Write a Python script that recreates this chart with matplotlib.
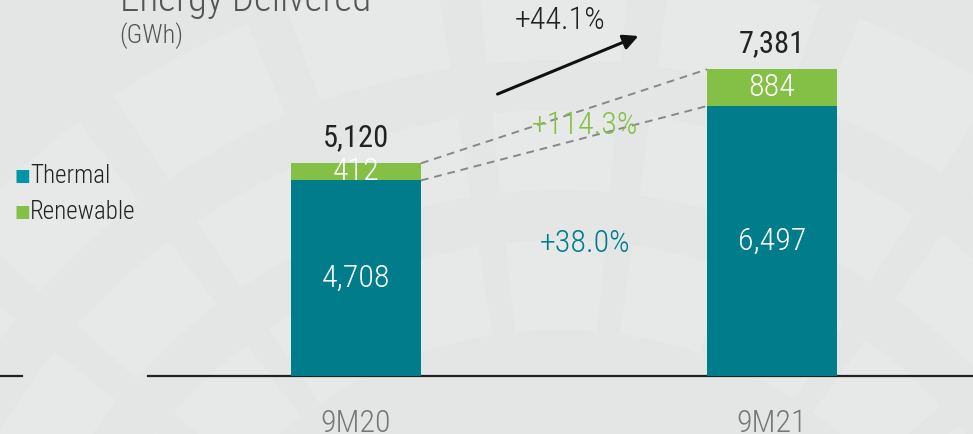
import matplotlib
matplotlib.use("Agg")
import matplotlib.pyplot as plt
from matplotlib import font_manager as fm
from matplotlib.patches import Wedge
import numpy as np

categories = ["9M20", "9M21"]
thermal = [4708, 6497]
renewable = [412, 884]
totals = [5120, 7381]
thermal_labels = ["4,708", "6,497"]
renewable_labels = ["412", "884"]
total_labels = ["5,120", "7,381"]
growth_total = "+44.1%"
growth_renew = "+114.3%"
growth_thermal = "+38.0%"

def pick_font():
    for f in ["Roboto Condensed", "Liberation Sans Narrow", "Roboto"]:
        try:
            fm.findfont(fm.FontProperties(family=f), fallback_to_default=False)
            return f
        except Exception:
            pass
    return "DejaVu Sans"

FONT = pick_font()
plt.rcParams["font.family"] = [FONT, "DejaVu Sans"]

TEAL = "#007C8A"
GREEN = "#85C046"
BG = "#E4E5E5"

fig = plt.figure(figsize=(9.73, 4.34), dpi=100)
fig.patch.set_facecolor(BG)

# faint decorative background
bgax = fig.add_axes([0, 0, 1, 1], zorder=-5)
bgax.set_xlim(0, 973); bgax.set_ylim(434, 0); bgax.axis("off")
cx, cy = 560, 760
for r0, r1 in [(430, 520), (570, 650), (700, 800)]:
    for a in range(180, 360, 14):
        bgax.add_patch(Wedge((cx, cy), r1, a, a + 11, width=r1 - r0,
                             facecolor="#E7E8E8", edgecolor="none", zorder=-5))

ax = fig.add_axes([148 / 973, 58 / 434, 825 / 973, 376 / 434])
ax.set_facecolor("none")
x = np.arange(len(categories))
w = 0.3125
ax.bar(x, thermal, width=w, color=TEAL, zorder=3)
ax.bar(x, renewable, width=w, bottom=thermal, color=GREEN, zorder=3)
ax.set_xlim(-0.5, 1.483)
ax.set_ylim(0, 9050)
for s in ["top", "right", "left"]:
    ax.spines[s].set_visible(False)
ax.spines["bottom"].set_color("#222222")
ax.spines["bottom"].set_linewidth(1.6)
ax.set_yticks([])
ax.set_xticks(x)
ax.set_xticklabels(categories, fontsize=23, color="#777777", fontweight="light")
ax.tick_params(axis="x", length=0, pad=24)

for i in range(len(categories)):
    ax.text(x[i], thermal[i] / 2, thermal_labels[i], ha="center", va="center",
            color="white", fontsize=23, fontweight="light", zorder=4)
    ax.text(x[i], thermal[i] + renewable[i] / 2, renewable_labels[i], ha="center",
            va="center", color="white", fontsize=23, fontweight="light", zorder=4)
    ax.text(x[i], totals[i] + 620, total_labels[i], ha="center", va="center",
            color="#222222", fontsize=22, fontweight="normal", zorder=4)

# dashed connectors
ax.plot([x[0] + w / 2, x[1] - w / 2], [totals[0], totals[1]], ls=(0, (4, 3)),
        color="#888888", lw=1.4, zorder=2)
ax.plot([x[0] + w / 2, x[1] - w / 2], [thermal[0], thermal[1]], ls=(0, (4, 3)),
        color="#888888", lw=1.4, zorder=2)

gx = 0.55
ax.text(gx, 6040, growth_renew, ha="center", va="center", color=GREEN,
        fontsize=23, fontweight="light")
ax.text(gx, 3180, growth_thermal, ha="center", va="center", color=TEAL,
        fontsize=23, fontweight="light")
ax.text(0.49, 8560, growth_total, ha="center", va="center", color="#222222",
        fontsize=23, fontweight="light")
ax.annotate("", xy=(0.685, 8210), xytext=(0.334, 6760),
            arrowprops=dict(arrowstyle="-|>,head_length=0.9,head_width=0.45",
                            color="#111111", lw=2.2))

# titles
fig.text(120 / 973, 1 - 0 / 434, "Energy Delivered", fontsize=28, color="#555555",
         ha="left", va="center", fontweight="light")
fig.text(119 / 973, 1 - 36 / 434, "(GWh)", fontsize=19, color="#555555",
         ha="left", va="center", fontweight="light")

# legend
fig.text(14 / 973, 1 - 176 / 434, "\u25A0", fontsize=12, color="#0096A8",
         ha="left", va="center", family="DejaVu Sans")
fig.text(30 / 973, 1 - 176 / 434, "Thermal", fontsize=18, color="#222222",
         ha="left", va="center", fontweight="light")
fig.text(14 / 973, 1 - 212 / 434, "\u25A0", fontsize=12, color=GREEN,
         ha="left", va="center", family="DejaVu Sans")
fig.text(30 / 973, 1 - 212 / 434, "Renewable", fontsize=18, color="#222222",
         ha="left", va="center", fontweight="light")

# short left baseline segment
fig.add_artist(plt.Line2D([0, 22 / 973], [58 / 434, 58 / 434], color="#222222", lw=1.6))

fig.savefig("out.png", dpi=100, facecolor=BG)
